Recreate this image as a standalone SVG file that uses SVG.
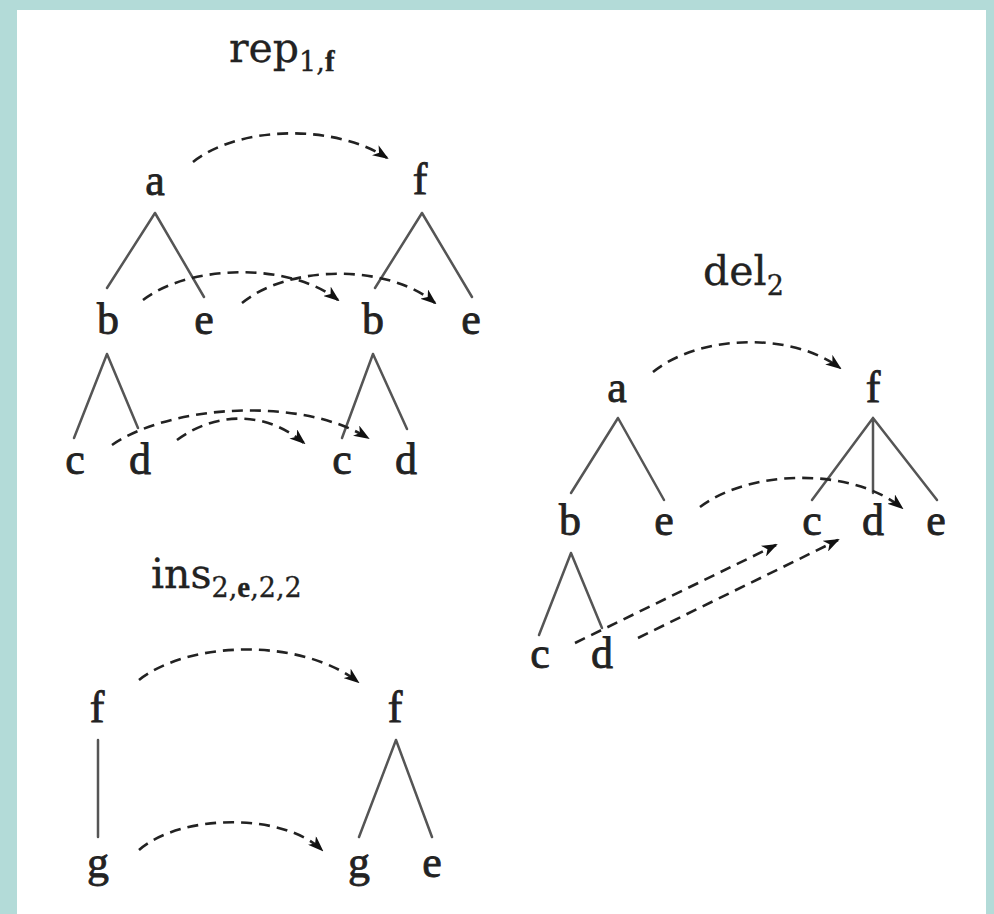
<svg xmlns="http://www.w3.org/2000/svg" width="994" height="914" viewBox="0 0 994 914">
<style>
.bg{fill:#b3dbd8}
.panel{fill:#ffffff}
.n{font-family:"Liberation Serif","DejaVu Serif",serif;font-size:44px;fill:#222;text-anchor:middle;stroke:#222;stroke-width:0.8}
.t{font-family:"DejaVu Serif","Liberation Serif",serif;font-size:41px;fill:#222;stroke:#222;stroke-width:0.3}
.ts{font-size:27px}
.tm{font-family:"Liberation Serif",serif;font-size:29px;font-weight:bold}
.e{stroke:#555;stroke-width:2.5;fill:none;stroke-linecap:round}
.a{stroke:#222;stroke-width:2.6;fill:none;stroke-dasharray:11 7;marker-end:url(#ah)}
</style>
<defs>
<marker id="ah" viewBox="0 0 16 12" refX="14" refY="6" markerWidth="16" markerHeight="12" markerUnits="userSpaceOnUse" orient="auto">
<path d="M0,0 L16,6 L0,12 L4.5,6 z" fill="#111"/>
</marker>
</defs>
<rect class="bg" x="0" y="0" width="994" height="914"/>
<rect class="panel" x="17" y="10" width="969" height="904"/>

<g id="titles">
<text class="t" x="229" y="62">rep<tspan class="ts" dy="9">1,</tspan><tspan class="tm">f</tspan></text>
<text class="t" x="703" y="285">del<tspan class="ts" dy="10">2</tspan></text>
<text class="t" x="151" y="588">ins<tspan class="ts" dy="9">2,</tspan><tspan class="tm">e</tspan><tspan class="ts">,2,2</tspan></text>
</g>

<g id="connectors">
<path class="e" d="M155,213 L107,288 M155,213 L204,297"/>
<path class="e" d="M422,213 L375,288 M422,213 L472,297"/>
<path class="e" d="M107,354 L74,438 M107,354 L138,428"/>
<path class="e" d="M373,354 L342,438 M373,354 L407,429"/>
<path class="a" d="M193,162 C240,125 335,124 387,158"/>
<path class="a" d="M143,300 C190,264 290,262 338,300"/>
<path class="a" d="M242,303 C290,264 388,264 435,303"/>
<path class="a" d="M112,445 C170,405 300,396 368,438"/>
<path class="a" d="M177,440 C215,412 265,410 304,443"/>
<path class="e" d="M618,418 L571,493 M618,418 L664,500"/>
<path class="e" d="M873,418 L812,500 M873,418 L873,493 M873,418 L937,500"/>
<path class="e" d="M571,553 L539,635 M571,553 L602,628"/>
<path class="a" d="M653,372 C700,334 792,332 840,368"/>
<path class="a" d="M700,507 C750,469 852,467 902,508"/>
<path class="a" d="M575,643 L776,545"/>
<path class="a" d="M638,638 L838,540"/>
<path class="e" d="M98,740 L98,837"/>
<path class="e" d="M396,740 L359,837 M396,740 L432,837"/>
<path class="a" d="M139,680 C190,640 302,638 358,682"/>
<path class="a" d="M139,850 C180,814 282,812 322,850"/>
</g>

<g id="rep-left-a"><text class="n" x="155" y="195">a</text></g>
<g id="rep-left-b"><text class="n" x="108" y="334">b</text></g>
<g id="rep-left-e"><text class="n" x="204" y="334">e</text></g>
<g id="rep-left-c"><text class="n" x="75" y="474">c</text></g>
<g id="rep-left-d"><text class="n" x="140" y="474">d</text></g>
<g id="rep-right-f"><text class="n" x="420" y="194">f</text></g>
<g id="rep-right-b"><text class="n" x="373" y="334">b</text></g>
<g id="rep-right-e"><text class="n" x="471" y="334">e</text></g>
<g id="rep-right-c"><text class="n" x="342" y="474">c</text></g>
<g id="rep-right-d"><text class="n" x="406" y="474">d</text></g>

<g id="del-left-a"><text class="n" x="617" y="402">a</text></g>
<g id="del-left-b"><text class="n" x="570" y="535">b</text></g>
<g id="del-left-e"><text class="n" x="664" y="535">e</text></g>
<g id="del-left-c"><text class="n" x="540" y="668">c</text></g>
<g id="del-left-d"><text class="n" x="602" y="668">d</text></g>
<g id="del-right-f"><text class="n" x="873" y="402">f</text></g>
<g id="del-right-c"><text class="n" x="812" y="535">c</text></g>
<g id="del-right-d"><text class="n" x="873" y="535">d</text></g>
<g id="del-right-e"><text class="n" x="936" y="535">e</text></g>

<g id="ins-left-f"><text class="n" x="97" y="722">f</text></g>
<g id="ins-left-g"><text class="n" x="98" y="877">g</text></g>
<g id="ins-right-f"><text class="n" x="395" y="722">f</text></g>
<g id="ins-right-g"><text class="n" x="359" y="877">g</text></g>
<g id="ins-right-e"><text class="n" x="432" y="877">e</text></g>
</svg>
